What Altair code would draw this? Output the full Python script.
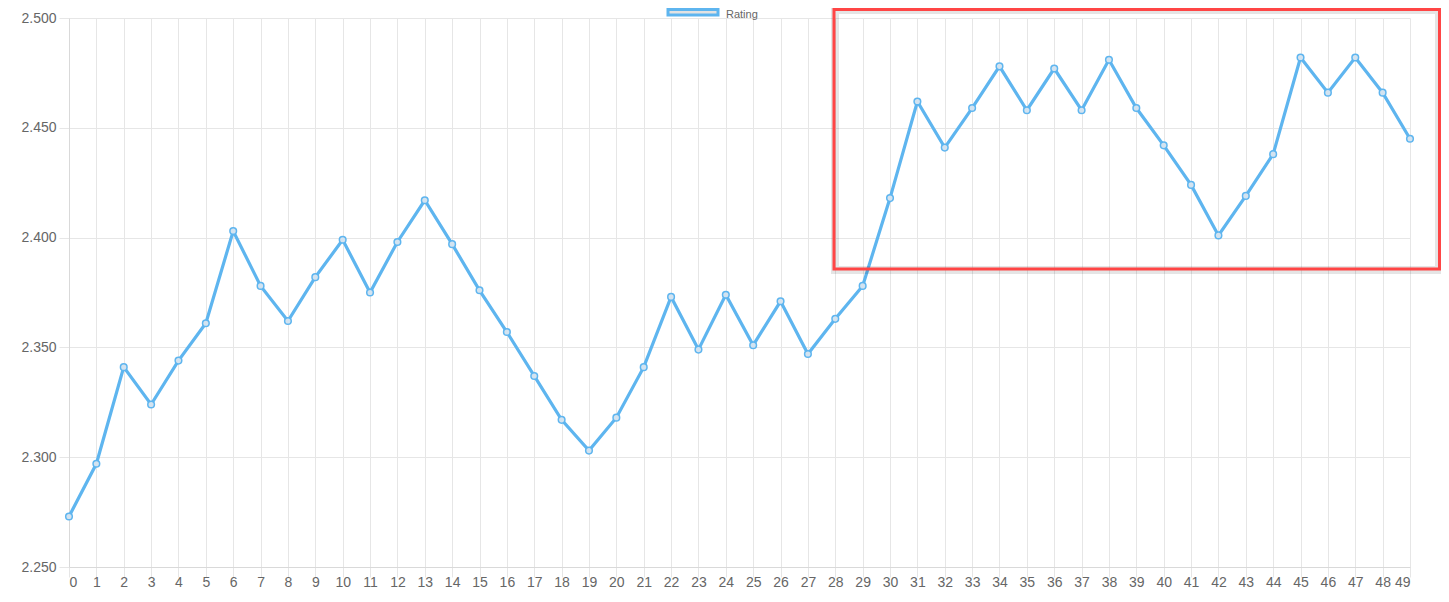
import altair as alt
import pandas as pd

# ---- data ----
game_index = list(range(50))
rating = [
    2.273, 2.297, 2.341, 2.324, 2.344, 2.361, 2.403, 2.378, 2.362, 2.382,
    2.399, 2.375, 2.398, 2.417, 2.397, 2.376, 2.357, 2.337, 2.317, 2.303,
    2.318, 2.341, 2.373, 2.349, 2.374, 2.351, 2.371, 2.347, 2.363, 2.378,
    2.418, 2.462, 2.441, 2.459, 2.478, 2.458, 2.477, 2.458, 2.481, 2.459,
    2.442, 2.424, 2.401, 2.419, 2.438, 2.482, 2.466, 2.482, 2.466, 2.445,
]
y_ticks = [2.25, 2.30, 2.35, 2.40, 2.45, 2.50]
series_name = ["Rating"]

LINE = "#5EB5EF"
GRID = "#e6e6e6"
FONT = "Liberation Sans"

df = pd.DataFrame({"idx": game_index, "rating": rating})

x_enc = alt.X(
    "idx:Q",
    scale=alt.Scale(domain=[0, 49], nice=False, zero=False),
    axis=alt.Axis(values=game_index, format="d", title=None,
                  tickSize=10, labelPadding=9, labelBaseline="alphabetic"),
)
y_enc = alt.Y(
    "rating:Q",
    scale=alt.Scale(domain=[2.25, 2.5], nice=False, zero=False),
    axis=alt.Axis(values=y_ticks, format=".3f", title=None,
                  tickSize=10, labelPadding=3),
)

base = alt.Chart(df).encode(x=x_enc, y=y_enc)

line = base.mark_line(color=LINE, strokeWidth=3.2)
points = base.mark_point(shape="circle", size=44, filled=True, fill="#d3e3f0",
                         stroke=LINE, strokeWidth=1.5, opacity=1)

one = pd.DataFrame({"label": series_name})

# legend at the very top of the chart
legend_box = alt.Chart(one).mark_rect(fill="#e2e2e2", stroke=LINE, strokeWidth=3).encode(
    x=alt.value(599), x2=alt.value(649), y=alt.value(-8.5), y2=alt.value(-3)
)
legend_text = alt.Chart(one).mark_text(
    align="left", baseline="alphabetic", fontSize=11, font=FONT, color="#666"
).encode(x=alt.value(657), y=alt.value(0), text="label:N")

# red highlight box with a soft shadow
shadow = alt.Chart(one).mark_rect(fillOpacity=0, stroke="#000", strokeOpacity=0.10, strokeWidth=8).encode(
    x=alt.value(766), x2=alt.value(1370), y=alt.value(-8), y2=alt.value(252)
)
highlight = alt.Chart(one).mark_rect(fillOpacity=0, stroke="#FF4545", strokeWidth=3).encode(
    x=alt.value(765), x2=alt.value(1370.5), y=alt.value(-8.5), y2=alt.value(251)
)

chart = alt.layer(line, points, legend_box, legend_text, shadow, highlight).properties(
    width=1341,
    height=549,
    autosize=alt.AutoSizeParams(type="none"),
    padding={"left": 61, "top": 10, "right": 31, "bottom": 23},
).configure_view(stroke=None).configure_axis(
    gridColor=GRID,
    gridWidth=1,
    tickColor=GRID,
    domainColor="#d9d9d9",
    labelColor="#666666",
    labelFont=FONT,
    labelFontSize=14,
)

chart.save("out.html", embed_options={"renderer": "svg", "actions": False})
